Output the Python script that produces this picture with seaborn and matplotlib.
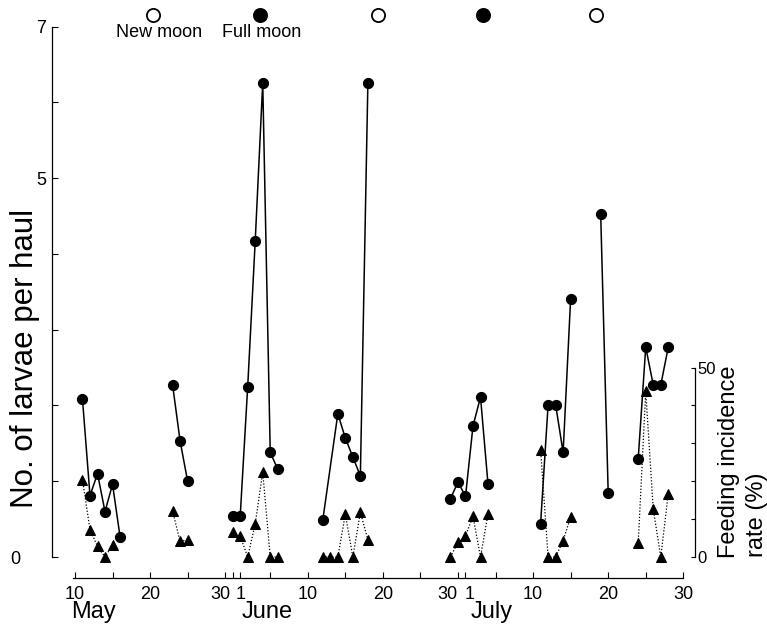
import matplotlib.pyplot as plt
import matplotlib.transforms as mtransforms
import pandas as pd
import seaborn as sns

# day numbers counted from 1 May (June 1 = 32, July 1 = 62)
larvae_day = [11, 12, 13, 14, 15, 16,
              23, 24, 25,
              31, 32, 33, 34, 35, 36, 37,
              43, 45, 46, 47, 48, 49,
              60, 61, 62, 63, 64, 65,
              72, 73, 74, 75, 76,
              80, 81,
              85, 86, 87, 88, 89]
larvae_n = [2.08, 0.81, 1.10, 0.60, 0.96, 0.27,
            2.27, 1.53, 1.00,
            0.54, 0.54, 2.25, 4.17, 6.26, 1.38, 1.16,
            0.49, 1.89, 1.57, 1.32, 1.07, 6.25,
            0.77, 0.99, 0.80, 1.73, 2.11, 0.96,
            0.44, 2.01, 2.01, 1.38, 3.41,
            4.53, 0.85,
            1.30, 2.77, 2.27, 2.27, 2.77]
larvae_run = [1] * 6 + [2] * 3 + [3] * 7 + [4] * 6 + [5] * 6 + [6] * 5 + [7] * 2 + [8] * 5

feed_day = [11, 12, 13, 14, 15,
            23, 24, 25,
            31, 32, 33, 34, 35, 36, 37,
            43, 44, 45, 46, 47, 48, 49,
            60, 61, 62, 63, 64, 65,
            72, 73, 74, 75, 76,
            85, 86, 87, 88, 89]
feed_pct = [20.4, 7.2, 2.8, 0, 3.2,
            12.1, 4.1, 4.6,
            6.5, 5.5, 0, 8.8, 22.4, 0, 0,
            0, 0, 0, 11.3, 0, 11.8, 4.6,
            0, 3.9, 5.6, 10.7, 0, 11.4,
            28.3, 0, 0, 4.3, 10.6,
            3.7, 43.7, 12.7, 0, 16.7]
feed_run = [1] * 5 + [2] * 3 + [3] * 7 + [4] * 7 + [5] * 6 + [6] * 5 + [7] * 5

moon_day = [20.4, 34.6, 50.4, 64.3, 79.4]
moon_full = [False, True, False, True, False]

tick_days = [10, 20, 30, 31, 32, 41, 51, 61, 62, 71, 81, 91]
tick_labels = ['10', '20', '30', '', '1', '10', '20', '30', '1', '10', '20', '30']
minor_days = [15, 25, 36, 46, 56, 66, 76, 86]
month_names = ['May', 'June', 'July']
month_pos = [12.5, 35.6, 65.5]

sns.set_style('ticks', {'axes.edgecolor': 'k', 'xtick.color': 'k', 'ytick.color': 'k',
                        'text.color': 'k', 'axes.labelcolor': 'k'})
plt.rcParams['font.family'] = ['Liberation Sans', 'DejaVu Sans']

larvae = pd.DataFrame({'day': larvae_day, 'n': larvae_n, 'run': larvae_run})
feed = pd.DataFrame({'day': feed_day, 'pct': feed_pct, 'run': feed_run})

fig = plt.figure(figsize=(7.67, 6.24), dpi=100)
ax = fig.add_axes([52 / 767, 46 / 624, 643 / 767, 568 / 624])

sns.lineplot(data=larvae, x='day', y='n', units='run', estimator=None, color='k',
             marker='o', markersize=7.3, markeredgecolor='k', linewidth=1.1,
             legend=False, ax=ax)

ax2 = ax.twinx()
sns.lineplot(data=feed, x='day', y='pct', units='run', estimator=None, color='k',
             marker='^', markersize=7.8, markeredgecolor='k', linewidth=0.9,
             linestyle=(0, (1, 1.5)), legend=False, ax=ax2)

# moon phases across the top
for d, full in zip(moon_day, moon_full):
    ax.plot([d], [7.16], marker='o', markersize=9.5, markeredgewidth=1.3,
            markeredgecolor='k', markerfacecolor='k' if full else 'white', clip_on=False)
ax.text(21.2, 6.92, 'New moon', ha='center', va='center', fontsize=13)
ax.text(34.9, 6.92, 'Full moon', ha='center', va='center', fontsize=13)

ax.set_xlim(6.94, 92.56)
ax.set_ylim(-0.277, 7.22)
ax2.set_ylim(-0.277 * 20, 7.22 * 20)

ax.set_xlabel('')
ax.set_ylabel('')
ax2.set_ylabel('')

ax.set_yticks(range(8), ['0', '', '', '', '', '5', '', '7'])
ax.set_xticks(tick_days, tick_labels)
ax.set_xticks(minor_days, minor=True)
ax2.set_yticks([0, 10, 20, 30, 40, 50], ['0', '', '', '', '', '50'])

ax.tick_params(axis='y', direction='in', length=4, width=0.8, pad=4, labelsize=13)
ax.tick_params(axis='x', which='both', direction='in', length=4, width=0.8, pad=6, labelsize=13)
ax2.tick_params(axis='y', direction='in', length=3, width=0.8, pad=2, labelsize=12)

for s in ['top', 'right']:
    ax.spines[s].set_visible(False)
for s in ['top', 'left', 'bottom']:
    ax2.spines[s].set_visible(False)
ax.spines['left'].set_bounds(0, 7)
ax.spines['bottom'].set_bounds(9.7, 91)
ax2.spines['right'].set_bounds(0, 50)
for sp in [ax.spines['left'], ax.spines['bottom'], ax2.spines['right']]:
    sp.set_linewidth(0.9)

for i, name in enumerate(month_names):
    ax.text(month_pos[i], -0.06, name, transform=ax.get_xaxis_transform(),
            ha='center', va='center', fontsize=17)

fig.text(25 / 767, 1 - 358 / 624, 'No. of larvae per haul', rotation=90,
         ha='center', va='center', fontsize=22.5)
fig.text(729 / 767, 1 - 558 / 624, 'Feeding incidence', rotation=90,
         ha='center', va='bottom', fontsize=17)
fig.text(757 / 767, 1 - 557 / 624, 'rate (%)', rotation=90,
         ha='center', va='bottom', fontsize=17)


def nudge(label, dx):
    label.set_transform(label.get_transform() +
                        mtransforms.ScaledTranslation(dx / 100, 0, fig.dpi_scale_trans))


yt = ax.yaxis.get_major_ticks()
nudge(yt[0].label1, -26)
xt = ax.xaxis.get_major_ticks()
nudge(xt[2].label1, -5)
nudge(xt[7].label1, -11)
nudge(xt[8].label1, 4)

fig.savefig('out.png', dpi=100)
